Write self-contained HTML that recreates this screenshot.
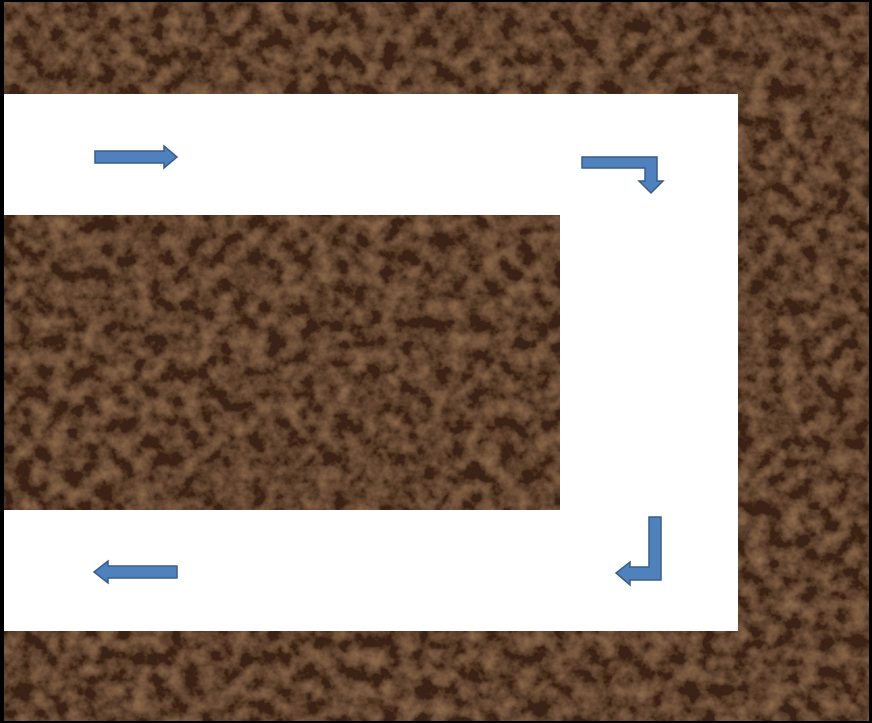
<!DOCTYPE html>
<html><head><meta charset="utf-8"><style>
html,body{margin:0;padding:0;background:#000;}
body{width:872px;height:723px;overflow:hidden;position:relative;font-family:"Liberation Sans",sans-serif;}
</style></head><body>
<svg width="872" height="723" viewBox="0 0 872 723" style="position:absolute;left:0;top:0">
<defs>
<filter id="marble" x="0" y="0" width="100%" height="100%">
<feTurbulence type="fractalNoise" baseFrequency="0.06" numOctaves="4" seed="7" result="n"/>
<feColorMatrix in="n" type="matrix" values="0 0 0 0 0  0 0 0 0 0  0 0 0 0 0  1.4 0 0 0 -0.45" result="a"/>
<feFlood flood-color="#9a7454" result="c"/>
<feComposite in="c" in2="a" operator="in" result="v"/>
<feFlood flood-color="#3a2215" result="bg"/>
<feMerge><feMergeNode in="bg"/><feMergeNode in="v"/></feMerge>
</filter>
</defs>
<rect x="0" y="0" width="872" height="723" fill="#000"/>
<rect x="3" y="2" width="866" height="719" fill="#4a2c1c" filter="url(#marble)"/>
<g fill="#fff">
<rect x="4" y="94" width="734" height="121"/>
<rect x="560" y="94" width="178" height="537"/>
<rect x="4" y="510" width="734" height="121"/>
</g>
<rect x="0" y="0" width="4" height="723" fill="#000"/>
<g fill="#4f81bd" stroke="#385d8a" stroke-width="1.5" stroke-linejoin="miter">
<path d="M95,151 L164,151 L164,146 L177,157 L164,168 L164,163 L95,163 Z"/>
<path d="M582,157 L657,157 L657,181 L663,181 L651,193 L639,181 L645,181 L645,168 L582,168 Z"/>
<path d="M649,517 L661,517 L661,580 L630,580 L630,585 L616,573 L630,562 L630,567 L649,567 Z"/>
<path d="M177,566 L108,566 L108,561 L94,572 L108,583 L108,578 L177,578 Z"/>
</g>
</svg>
</body></html>
